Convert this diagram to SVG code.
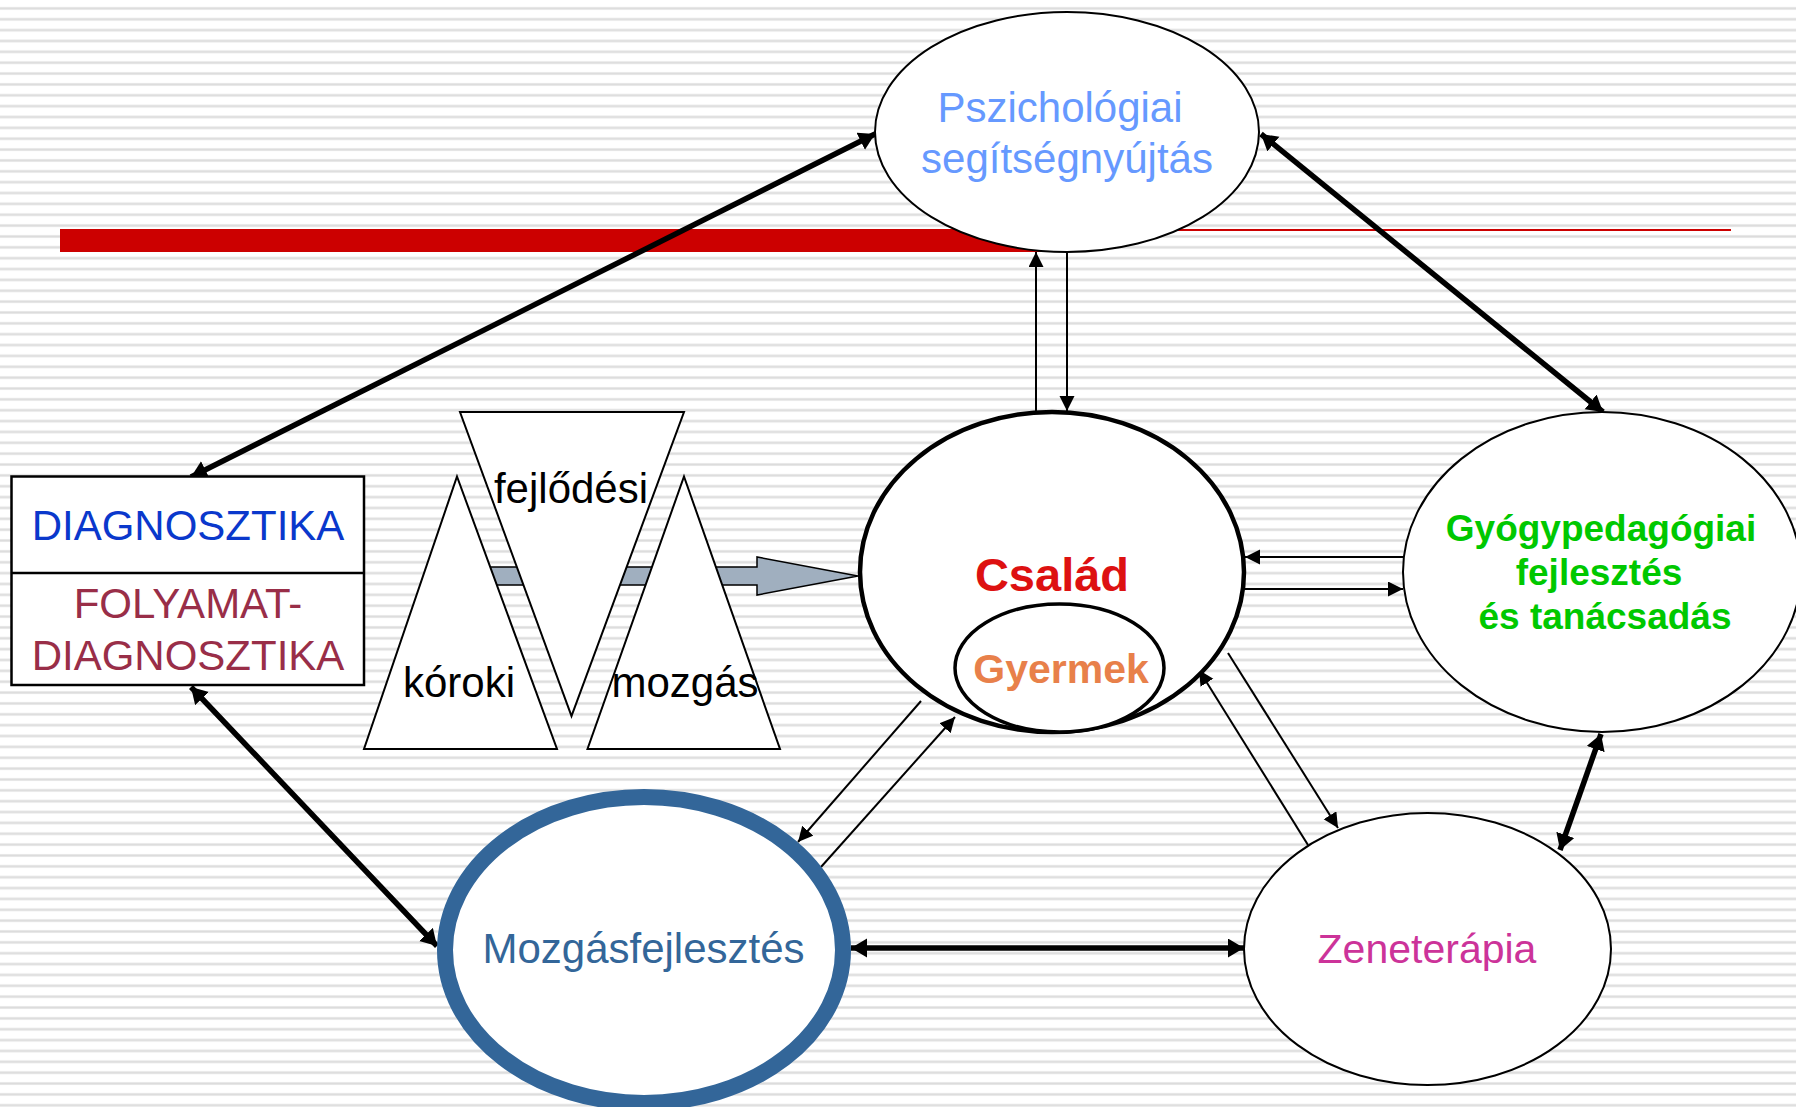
<svg xmlns="http://www.w3.org/2000/svg" width="1796" height="1107" viewBox="0 0 1796 1107">
<defs>
<pattern id="stripes" patternUnits="userSpaceOnUse" x="0" y="0" width="20" height="10.86">
<rect x="0" y="0" width="20" height="10.86" fill="#ffffff"/>
<rect x="0" y="6.9" width="20" height="3" fill="#ececec"/>
<rect x="0" y="7.6" width="20" height="1.6" fill="#dcdcdc"/>
</pattern>
<marker id="ah" markerUnits="userSpaceOnUse" markerWidth="16" markerHeight="16" refX="15" refY="7.5" orient="auto-start-reverse">
<path d="M0,0 L15,7.5 L0,15 z" fill="#000"/>
</marker>
<marker id="ahT" markerUnits="userSpaceOnUse" markerWidth="20" markerHeight="20" refX="16" refY="9.5" orient="auto-start-reverse">
<path d="M0,0 L16,9.5 L0,19 z" fill="#000"/>
</marker>
</defs>
<style>
.t{font-family:"Liberation Sans",Arial,sans-serif;text-anchor:middle}
.thin{stroke:#000;stroke-width:2;fill:none;marker-end:url(#ah)}
.thick{stroke:#000;stroke-width:5.5;fill:none;marker-start:url(#ahT);marker-end:url(#ahT)}
.node{fill:#fff;stroke:#000}
</style>
<rect x="0" y="0" width="1796" height="1107" fill="url(#stripes)"/>
<g id="redbar">
<rect x="60" y="229" width="1010" height="23" fill="#CC0000"/>
<rect x="1070" y="229" width="661" height="2" fill="#CC0000"/>
</g>
<g id="connectors">
<line class="thick" x1="875" y1="134" x2="191" y2="477"/>
<line class="thick" x1="1261" y1="134" x2="1603" y2="412"/>
<line class="thin" x1="1067" y1="252" x2="1067" y2="411"/>
<line class="thin" x1="1036" y1="413" x2="1036" y2="252"/>
<line class="thin" x1="1404" y1="557" x2="1245" y2="557"/>
<line class="thin" x1="1244" y1="589" x2="1403" y2="589"/>
<line class="thin" x1="921" y1="701" x2="798" y2="842"/>
<line class="thin" x1="821" y1="867" x2="955" y2="717"/>
<line class="thin" x1="1228" y1="653" x2="1338" y2="828"/>
<line class="thin" x1="1308" y1="845" x2="1199" y2="670"/>
<line class="thick" x1="1601" y1="734" x2="1560" y2="850"/>
<line class="thick" x1="851" y1="948" x2="1244" y2="948"/>
<line class="thick" x1="191" y1="687" x2="437" y2="946"/>
</g>
<g id="pszichologiai">
<ellipse class="node" cx="1067" cy="132" rx="192" ry="120" stroke-width="2"/>
<text class="t" x="1060" y="122" font-size="42" fill="#6699FF">Pszichológiai</text>
<text class="t" x="1067" y="173" font-size="42" fill="#6699FF">segítségnyújtás</text>
</g>
<g id="diagnosztika">
<rect x="11.5" y="476.5" width="352.5" height="208.5" fill="#fff" stroke="#000" stroke-width="2.5"/>
<line x1="11.5" y1="573" x2="364" y2="573" stroke="#000" stroke-width="2.5"/>
<text class="t" x="188" y="540" font-size="42" fill="#0A38CC">DIAGNOSZTIKA</text>
<text class="t" x="188" y="618" font-size="42" fill="#992E48">FOLYAMAT-</text>
<text class="t" x="188" y="670" font-size="42" fill="#992E48">DIAGNOSZTIKA</text>
</g>
<g id="okok">
<path d="M480,567 L757,567 L757,557 L858,576 L757,595 L757,585 L480,585 z" fill="#A0AFBF" stroke="#000" stroke-width="1.5"/>
<polygon points="457,476.5 557,749 364,749" fill="#fff" stroke="#000" stroke-width="2"/>
<polygon points="460,412 684,412 571.5,716" fill="#fff" stroke="#000" stroke-width="2"/>
<polygon points="684,476.5 780,749 587.5,749" fill="#fff" stroke="#000" stroke-width="2"/>
<text class="t" x="571" y="503" font-size="42" fill="#000">fejlődési</text>
<text class="t" x="459" y="697" font-size="42" fill="#000">kóroki</text>
<text class="t" x="685" y="697" font-size="42" fill="#000">mozgás</text>
</g>
<g id="csalad">
<ellipse class="node" cx="1052" cy="572" rx="192" ry="160" stroke-width="4.5"/>
<text class="t" x="1052" y="591" font-size="47" font-weight="bold" fill="#DD1111">Család</text>
<ellipse cx="1059.5" cy="668" rx="104.5" ry="64" fill="#fff" stroke="#000" stroke-width="3.5"/>
<text class="t" x="1061" y="683" font-size="41" font-weight="bold" fill="#E8804A">Gyermek</text>
</g>
<g id="gyogypedagogiai">
<ellipse class="node" cx="1602" cy="572" rx="199" ry="160" stroke-width="2"/>
<text class="t" x="1601" y="541" font-size="37" font-weight="bold" fill="#00C800">Gyógypedagógiai</text>
<text class="t" x="1599" y="585" font-size="37" font-weight="bold" fill="#00C800">fejlesztés</text>
<text class="t" x="1605" y="629" font-size="37" font-weight="bold" fill="#00C800">és tanácsadás</text>
</g>
<g id="mozgasfejlesztes">
<ellipse cx="644" cy="950" rx="199" ry="153" fill="#fff" stroke="#336699" stroke-width="16"/>
<text class="t" x="643.5" y="963" font-size="42" fill="#336699">Mozgásfejlesztés</text>
</g>
<g id="zeneterapia">
<ellipse class="node" cx="1427.5" cy="949" rx="183.5" ry="136" stroke-width="2"/>
<text class="t" x="1427" y="963" font-size="41" fill="#CC3399">Zeneterápia</text>
</g>
</svg>
